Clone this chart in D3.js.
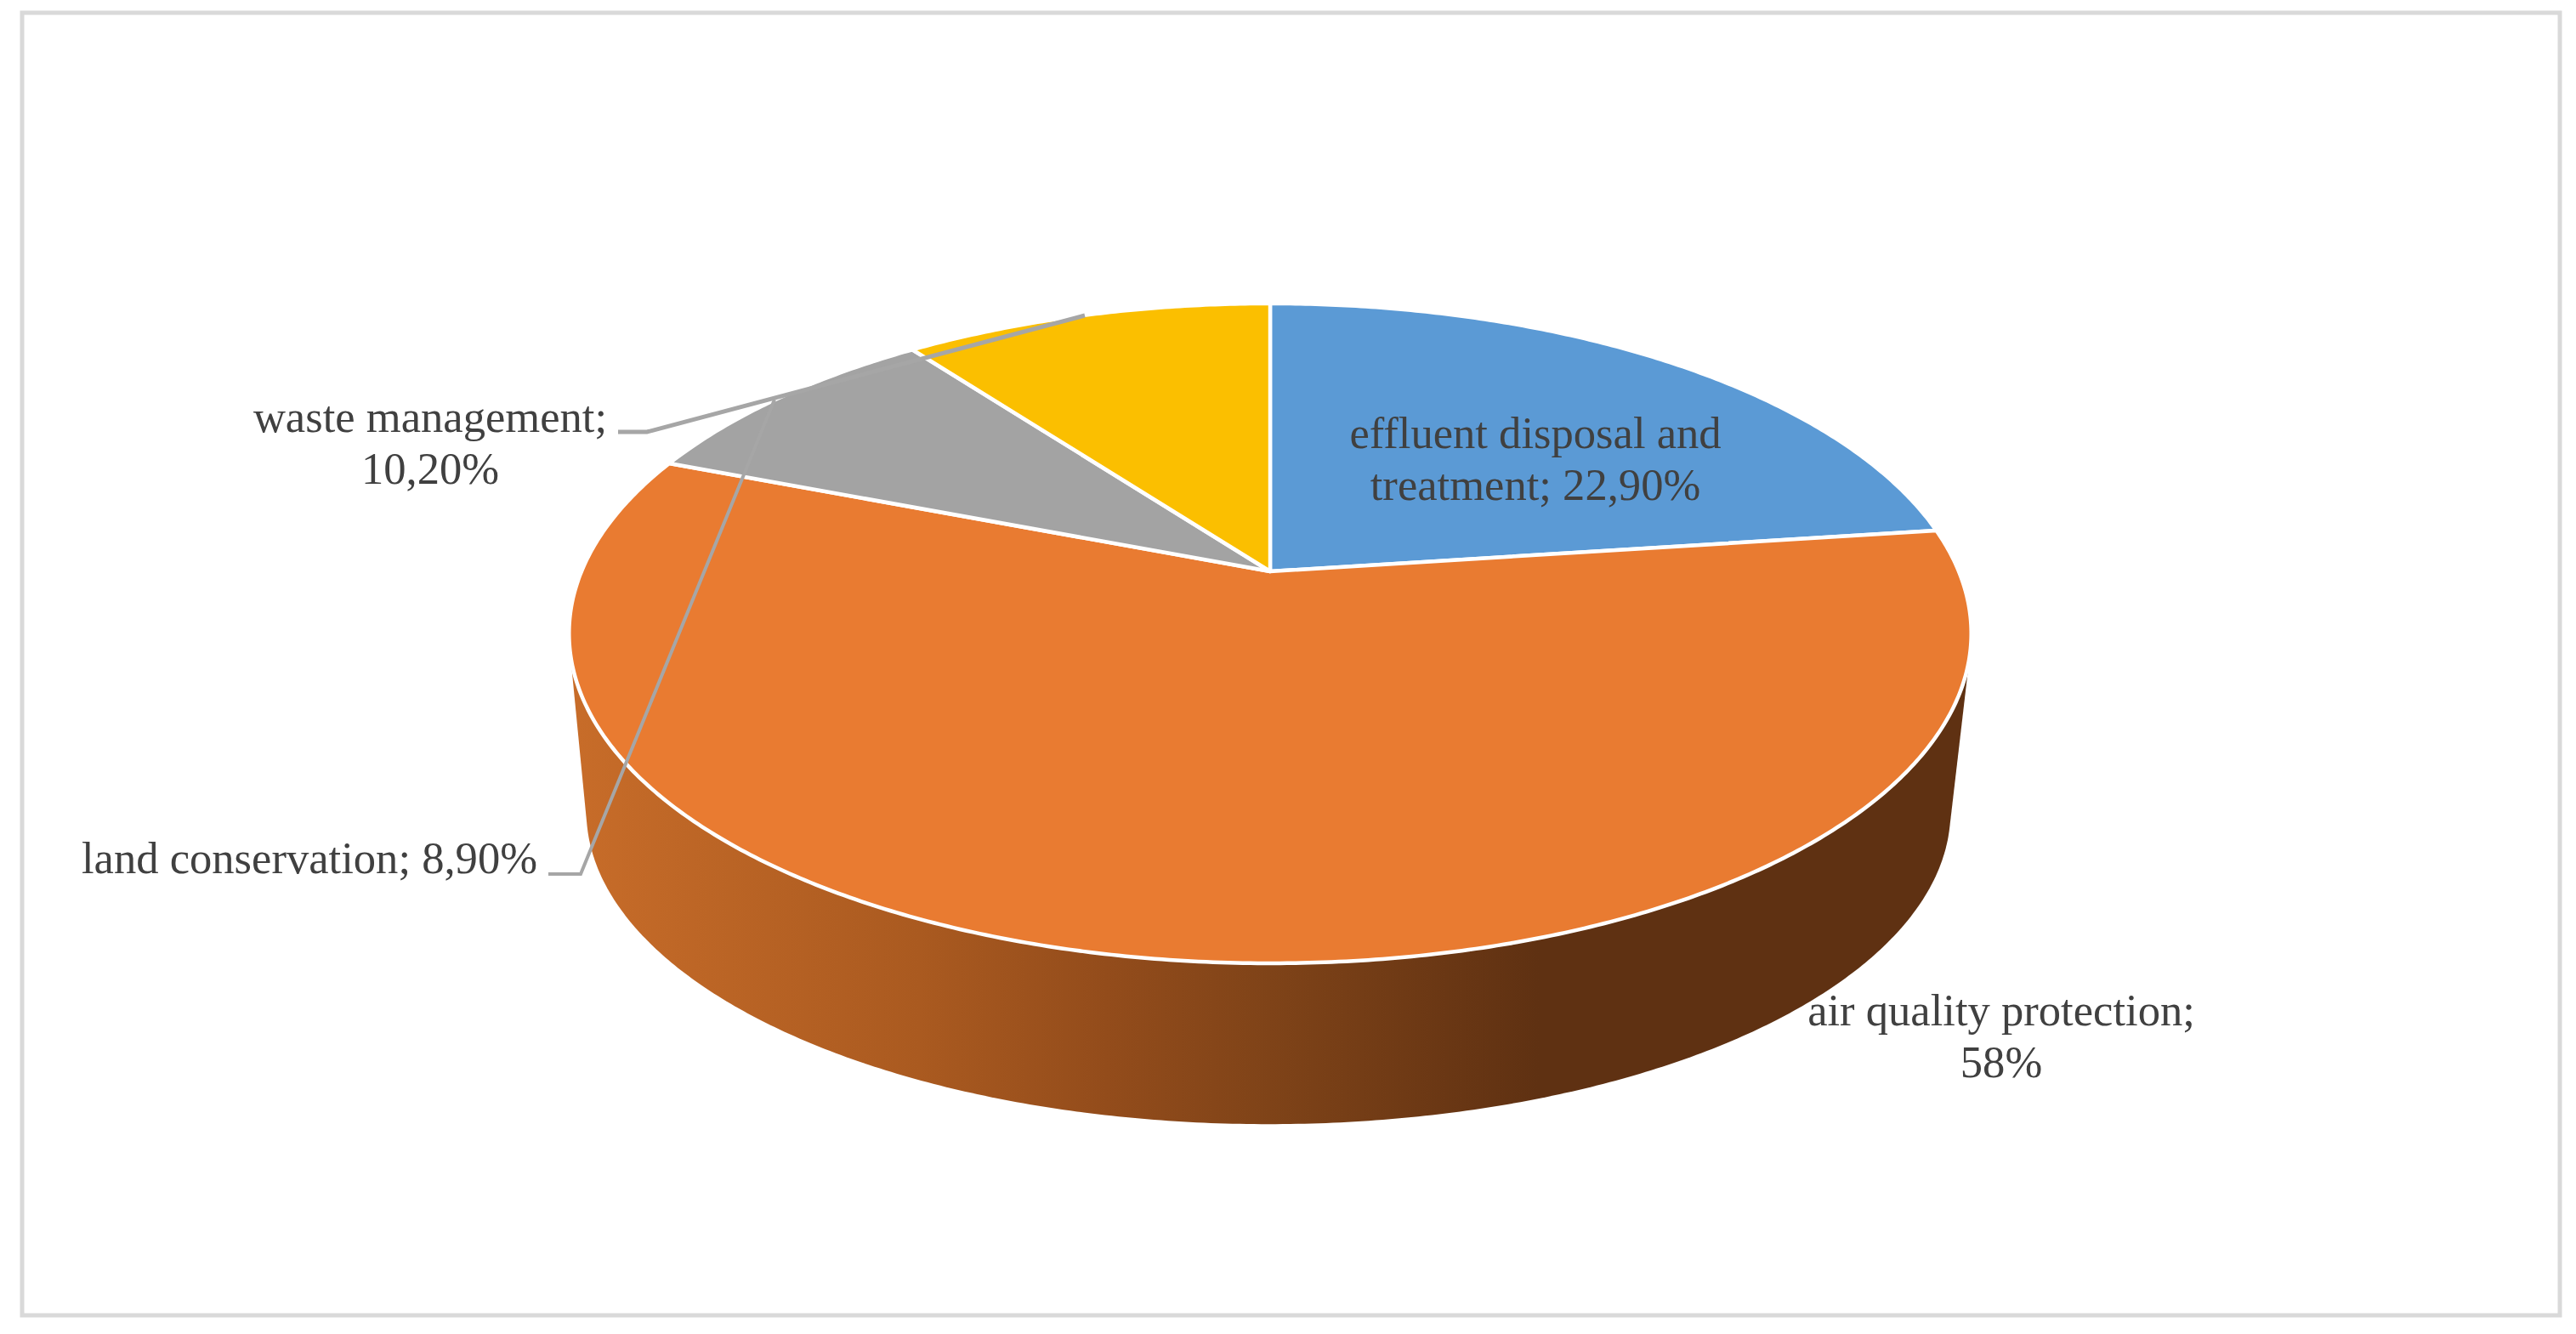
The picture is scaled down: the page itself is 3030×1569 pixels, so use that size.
<!DOCTYPE html>
<html><head><meta charset="utf-8">
<script src="https://cdn.jsdelivr.net/npm/d3@7"></script>
<style>html,body{margin:0;padding:0;background:#fff}svg{display:block}</style>
</head><body><svg id="c"></svg>
<script>
// ---- data ----
const categories = ["effluent disposal and treatment","air quality protection","land conservation","waste management"];
const values = [22.9, 58, 8.9, 10.2];
const valueLabels = ["22,90%","58%","8,90%","10,20%"];
const colors = ["#5B9AD5","#E97B31","#A3A3A3","#FBBF00"];

// ---- layout ----
const W = 3030, H = 1569;
const topDisc = {cx:1494, cy:672, a:810, b:374.3, k:0.188};
const botDisc = {cx:1492, cy:885, a:788, b:355, k:0.188};
const fontSize = 52.6, lineGap = 60.5;
const labelLayout = [
  {lines:["effluent disposal and","treatment; 22,90%"], x:1806, y:527},
  {lines:["air quality protection;","58%"], x:2354, y:1206},
  {lines:["land conservation; 8,90%"], x:364, y:1027},
  {lines:["waste management;","10,20%"], x:506, y:508}
];
const leaders = [
  {i:3, pts:[[727,508],[761,508],[1276,371]], w:5},
  {i:2, pts:[[645,1028],[683,1028],[911,470]], w:4}
];

const svg = d3.select("#c").attr("width",W).attr("height",H);
svg.append("rect").attr("width",W).attr("height",H).attr("fill","#fff");
svg.append("rect").attr("x",26).attr("y",15).attr("width",2985).attr("height",1532)
  .attr("fill","none").attr("stroke","#d9d9d9").attr("stroke-width",5);

function project(d, t){
  const u = Math.sin(t), v = -Math.cos(t), w = 1 - d.k*v;
  return [d.cx + d.a*u/w, d.cy + d.b*v/w];
}
const arcs = d3.pie().sort(null).value(d=>d)(values);
const line = d3.line();
const step = Math.PI/360;
function arcPts(d,t0,t1){
  const n = Math.max(2,Math.ceil((t1-t0)/step));
  return d3.range(n+1).map(i=>project(d,t0+(t1-t0)*i/n));
}

// side wall: silhouette of the two discs
const gradStops = [[0,"#C76C29"],[0.355,"#AA5A20"],[0.55,"#934C1B"],[0.72,"#7F4318"],[1,"#5F3112"]];
const defs = svg.append("defs");
const g = defs.append("linearGradient").attr("id","wall").attr("gradientUnits","userSpaceOnUse")
  .attr("x1",680).attr("x2",1810).attr("y1",0).attr("y2",0);
gradStops.forEach(s=>g.append("stop").attr("offset",s[0]).attr("stop-color",s[1]));
const hull = d3.polygonHull(arcPts(topDisc,0,2*Math.PI).concat(arcPts(botDisc,0,2*Math.PI)));
svg.append("path").attr("d",line(hull)+"Z").attr("fill","url(#wall)");

// top slices
svg.append("g").selectAll("path").data(arcs).join("path")
  .attr("d",d=>line([[topDisc.cx,topDisc.cy]].concat(arcPts(topDisc,d.startAngle,d.endAngle)))+"Z")
  .attr("fill",(d,i)=>colors[i]).attr("stroke","#fff").attr("stroke-width",4.5).attr("stroke-linejoin","round");

// leaders
svg.append("g").selectAll("path").data(leaders).join("path")
  .attr("d",d=>line(d.pts)).attr("fill","none").attr("stroke","#a6a6a6").attr("stroke-width",d=>d.w);

// labels
const tg = svg.append("g").attr("font-family","'Liberation Serif',serif").attr("font-size",fontSize)
  .attr("fill","#404040").attr("text-anchor","middle");
labelLayout.forEach(l=>{
  l.lines.forEach((s,j)=>{
    tg.append("text").attr("x",l.x).attr("y",l.y+j*lineGap).text(s);
  });
});
</script></body></html>
